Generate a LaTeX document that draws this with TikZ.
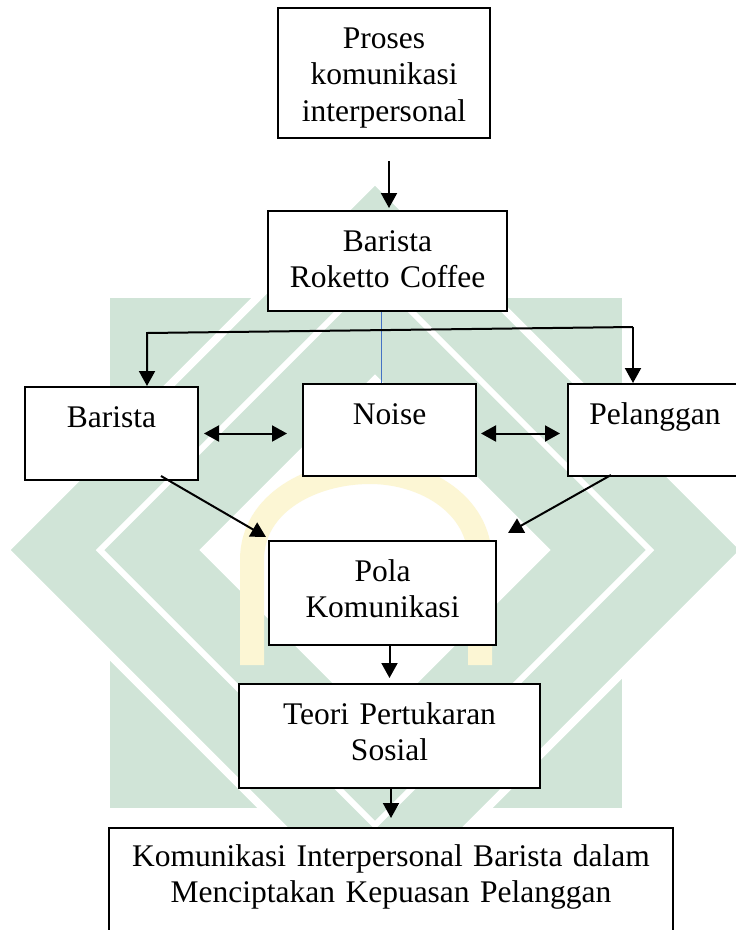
\documentclass[tikz,border=0pt]{standalone}
\usepackage{fontspec}
\setmainfont{Liberation Serif}
\usetikzlibrary{arrows.meta,positioning,calc}
\definecolor{wmgreen}{RGB}{208,228,215}
\definecolor{wmyellow}{RGB}{252,246,212}
\definecolor{noiseblue}{RGB}{68,114,196}
\newcommand{\diagfont}{\fontsize{31.5}{36.5}\selectfont}

\begin{document}
\begin{tikzpicture}[
            x=1pt, y=-1pt,
            block/.style={rectangle, draw, fill=white, line width=2pt, inner sep=0pt, align=center, font=\diagfont, text height=40pt, anchor=north},
            arrow/.style={line width=2pt, -{Triangle[length=15pt,width=16pt]}},
            dblarrow/.style={line width=2pt, {Triangle[length=15pt,width=16pt]}-{Triangle[length=15pt,width=16pt]}},
            noiseline/.style={draw=noiseblue, line width=1.2pt}
        ]
        \useasboundingbox (0,0) rectangle (736,930);

        % watermark
        \fill[wmgreen] (110,298) rectangle (622,808);
        \path[fill=wmgreen, draw=white, line width=8pt, even odd rule] (375,180) -- (745,550) -- (375,920) -- (5,550) -- cycle (375,380) -- (545,550) -- (375,720) -- (205,550) -- cycle;
        \fill[white] (375,384) -- (541,550) -- (375,716) -- (209,550) -- cycle;
        \draw[white, line width=6pt] (375,275) -- (650,550) -- (375,825) -- (100,550) -- cycle;
        \draw[wmyellow, line width=24pt] (252,665) -- (252,560) to[out=90,in=180] (370,472) to[out=0,in=90] (480,560) -- (480,665);

        \node[block, text width=212pt, text depth=90pt] (proses) at (384,7) {Proses\\komunikasi\\interpersonal};
        \node[block, below=71pt of proses, xshift=3.5pt, text width=239pt, text depth=60pt] (roketto) {Barista\\Roketto Coffee};
        \node[block, below=71pt of roketto, xshift=2pt, text width=173pt, text depth=52pt] (noise) {Noise};
        \node[block, left=103pt of noise, yshift=-3.5pt, text width=173pt, text depth=53pt] (barista) {Barista};
        \node[block, right=90pt of noise, text width=174pt, text depth=52pt] (pelanggan) {Pelanggan};
        \node[block, below=63pt of noise, xshift=-7pt, text width=227pt, text depth=64pt] (pola) {Pola\\Komunikasi};
        \node[block, below=37pt of pola, xshift=7pt, text width=301pt, text depth=64pt] (teori) {Teori Pertukaran\\Sosial};
        \node[block, below=38pt of teori, xshift=1.5pt, text width=564pt, text height=38pt, text depth=100pt] (hasil) {Komunikasi Interpersonal Barista dalam\\Menciptakan Kepuasan Pelanggan};

        \draw[arrow, shorten >=2pt] ($(proses.south -| roketto.north)+(1.5,22)$) -- ($(roketto.north)+(1.5,0)$);

        \coordinate (blueTop) at ([xshift=-6pt]roketto.south);
        \draw[noiseline] (blueTop) -- (blueTop |- noise.north);

        \coordinate (barL) at (147,333);
        \coordinate (barR) at (633,327);
        \draw[arrow] (barR) -- (barL) -- (barL |- barista.north);
        \draw[arrow] (barR) -- (barR |- pelanggan.north);

        \draw[dblarrow] ($(barista.east)+(5,0)$) -- ($(noise.west |- barista.east)+(-15,0)$);
        \draw[dblarrow] ($(noise.east |- barista.east)+(4,0)$) -- ($(pelanggan.west |- barista.east)+(-7,0)$);

        \draw[arrow] ($(barista.south east)+(-38,-5)$) -- ($(pola.north west)+(-2,-3)$);
        \draw[arrow] ($(pelanggan.south west)+(44,-2)$) -- ($(pola.north east)+(11,-7)$);

        \draw[arrow, shorten >=5pt] (pola.south -| teori.north) -- (teori.north);
        \draw[arrow, shorten >=9pt] (teori.south -| hasil.north) -- (hasil.north);

    \end{tikzpicture}
\end{document}
